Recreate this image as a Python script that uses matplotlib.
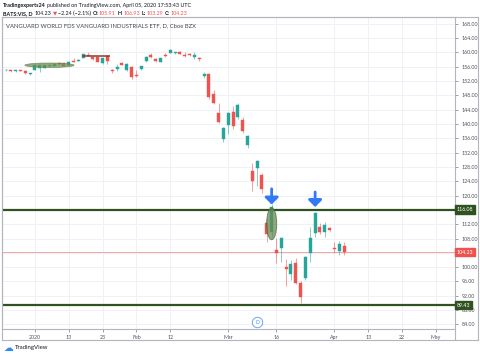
import matplotlib
matplotlib.use('Agg')
import matplotlib.pyplot as plt
from matplotlib.lines import Line2D
from matplotlib.patches import Ellipse
import matplotlib.transforms as mtrans

# ---------------- data (bar index 0 = 2019-12-23, daily bars) ----------------
opens = [154.95, 155.0, 154.7, 155.0, 154.8, 153.9, 155.1, 155.6, 155.7, 156.1,
         156.3, 157.1, 157.1, 156.4, 157.7, 157.7, 158.5, 159.3, 158.8, 158.6,
         157.0, 159.0, 155.2, 155.4, 157.1, 155.1, 156.0, 153.8, 155.3, 157.5,
         159.3, 158.2, 157.4, 159.3, 159.9, 159.8, 160.0, 159.3, 159.5, 158.8,
         158.5, 153.4, 153.9, 148.3, 143.0, 135.8, 139.7, 143.4, 141.9, 141.1,
         134.1, 126.9, 127.6, 125.7, 112.3, 109.8, 104.8, 105.4, 100.1, 98.1,
         101.3, 95.6, 96.9, 104.0, 109.5, 111.3, 109.9, 110.9, 105.4, 104.6,
         105.91]
highs = [155.25, 155.2, 155.0, 155.2, 155.0, 154.3, 156.5, 156.6, 156.6, 156.5,
         156.9, 157.4, 157.3, 157.5, 158.4, 158.0, 159.6, 160.2, 158.9, 158.8,
         158.5, 159.3, 155.4, 156.7, 157.4, 156.9, 156.2, 155.1, 156.2, 158.9,
         159.7, 158.3, 158.5, 159.9, 160.8, 160.2, 160.3, 160.1, 159.8, 160.1,
         158.7, 154.5, 154.1, 149.5, 145.9, 139.2, 143.3, 145.1, 145.9, 141.9,
         136.8, 129.1, 130.0, 126.4, 113.7, 117.6, 108.2, 108.4, 102.3, 102.0,
         102.6, 96.0, 103.2, 111.3, 115.5, 112.2, 112.7, 111.3, 107.1, 107.3,
         106.93]
lows = [154.75, 154.6, 154.5, 154.7, 154.0, 153.6, 155.0, 154.5, 155.5, 155.9,
        156.2, 156.6, 156.1, 156.2, 157.3, 157.5, 158.4, 158.9, 157.9, 157.3,
        156.8, 156.7, 154.2, 154.8, 156.4, 154.9, 152.6, 153.2, 155.1, 157.3,
        158.4, 157.4, 157.3, 158.6, 159.8, 159.6, 159.4, 158.8, 159.0, 158.1,
        157.5, 152.8, 146.9, 145.6, 140.3, 135.0, 137.2, 138.6, 141.5, 137.6,
        133.2, 121.4, 122.7, 120.6, 107.0, 108.5, 101.2, 101.4, 94.7, 96.4,
        95.3, 90.0, 96.5, 101.5, 108.5, 109.2, 108.5, 110.1, 103.9, 103.5,
        103.29]
closes = [155.1, 154.7, 154.9, 154.8, 154.2, 154.1, 156.4, 156.4, 156.4, 156.3,
          156.8, 156.8, 156.2, 157.3, 157.4, 157.9, 159.5, 159.0, 158.1, 157.4,
          158.3, 157.6, 154.9, 156.0, 156.5, 156.7, 153.0, 153.4, 156.2, 158.8,
          158.6, 157.6, 158.4, 159.1, 160.6, 160.1, 159.5, 159.0, 159.2, 159.2,
          158.2, 154.0, 147.4, 145.9, 140.6, 138.9, 143.0, 139.4, 145.3, 138.1,
          136.6, 124.1, 129.7, 121.8, 109.3, 116.8, 104.0, 108.2, 99.5, 100.9,
          95.7, 91.7, 102.9, 108.1, 115.0, 109.9, 111.8, 110.4, 105.1, 106.5,
          104.23]

tick_idx = [6, 13, 20, 27, 34, 46, 56, 68, 75, 82, 89]
tick_labels = ['2020', '13', '23', 'Feb', '12', 'Mar', '16', 'Apr', '13', '22', 'May']
price_ticks = list(range(84, 169, 4))
levels = [116.08, 89.43]
last_close = 104.23
dividend_bar = 52
arrow_bars = [55, 64]

# ---------------- style ----------------
UP = '#26a69a'
DN = '#ef5350'
GRID = '#eef1f6'
FRAME = '#b2b5be'
LVL = '#2f5220'
BLUE = '#3179f5'
W, H = 480, 356
FONT = ['Lato', 'DejaVu Sans']

fig = plt.figure(figsize=(W / 100, H / 100), dpi=100)
fig.patch.set_facecolor('white')

def fx(px):
    return px / W

def fy(py):
    return 1 - py / H

ax_l, ax_r, ax_t, ax_b = 2, 455, 17, 329
ax = fig.add_axes([fx(ax_l), fy(ax_b), fx(ax_r - ax_l), (ax_b - ax_t) / H])
ax.set_facecolor('white')

n = len(opens)
xs = list(range(n))

# grid
for p in price_ticks:
    ax.axhline(p, color=GRID, lw=0.7, zorder=0)
for t in tick_idx:
    ax.axvline(t, color=GRID, lw=0.7, zorder=0)

# candles
for i in xs:
    o, h, l, c = opens[i], highs[i], lows[i], closes[i]
    col = UP if c >= o else DN
    ax.vlines(i, l, h, color=col, lw=0.7, alpha=0.55, zorder=2)
    lo = min(o, c)
    hgt = max(abs(c - o), 0.25)
    ax.bar(i, hgt, bottom=lo, width=0.62, color=col, edgecolor=col, lw=0.3, zorder=3)

# price line of last close
ax.axhline(last_close, color='#f5a5a5', lw=0.7, zorder=1)

# support / resistance levels
for lv in levels:
    ax.axhline(lv, color=LVL, lw=1.6, zorder=4)

# drawings: ellipses
ax.add_patch(Ellipse((9.0, 156.4), 10.2, 1.25, facecolor='#6f8f55', edgecolor='#5b7a44',
                     alpha=0.75, lw=0.5, zorder=5))
ax.plot([15.7, 21.5], [158.85, 158.85], color='#8e3a2b', lw=1.1, zorder=5,
        solid_capstyle='butt')
ax.add_patch(Ellipse((55.0, 112.1), 2.1, 8.9, facecolor='#6b8a55', edgecolor='#48663a',
                     alpha=0.75, lw=0.6, zorder=5))

# arrows
for b, top, tip in zip(arrow_bars, [121.9, 121.0], [117.5, 116.8]):
    ax.annotate('', xy=(b, tip), xytext=(b, top),
                arrowprops=dict(arrowstyle='-|>,head_width=0.45,head_length=0.45',
                                color=BLUE, lw=2.0, mutation_scale=9, shrinkA=0, shrinkB=0),
                zorder=6)

# dividend marker
trans_xd = mtrans.blended_transform_factory(ax.transData, ax.transAxes)
ax.plot([dividend_bar], [0.022], transform=trans_xd, marker='o', ms=7.5, mfc='white',
        mec='#64a8f5', mew=0.7, zorder=7, clip_on=False)
ax.text(dividend_bar, 0.022, 'D', transform=trans_xd, ha='center', va='center',
        fontsize=3.6, color='#3f8ef0', family=FONT, zorder=8)

ax.set_xlim(-0.83, 92.96)
ax.set_ylim(82.73, 169.87)

# axes ticks (labels hidden behind the price-axis boxes are left blank)
hidden = {116, 104}
ax.yaxis.tick_right()
ax.set_yticks(price_ticks)
ax.set_yticklabels(['' if p in hidden else f'{p:.2f}' for p in price_ticks])
ax.set_xticks(tick_idx)
ax.set_xticklabels(tick_labels)
ax.tick_params(axis='y', length=2, width=0.5, color='#787b86', pad=2.5, labelsize=3.8,
               labelcolor='#50535e')
ax.tick_params(axis='x', length=2, width=0.5, color='#787b86', pad=2.5, labelsize=3.8,
               labelcolor='#50535e')
for lab in ax.get_xticklabels() + ax.get_yticklabels():
    lab.set_family(FONT)
for s in ax.spines.values():
    s.set_color(FRAME)
    s.set_linewidth(0.8)

# price-axis labels
trans_ad = mtrans.blended_transform_factory(ax.transAxes, ax.transData)
for val, bg in [(levels[0], LVL), (last_close, '#ef5350'), (levels[1], LVL)]:
    ax.text(1.004, val, f'{val:.2f}', transform=trans_ad, ha='left', va='center',
            fontsize=3.8, color='white', family=FONT, zorder=10, clip_on=False,
            bbox=dict(boxstyle='square,pad=0.35', facecolor=bg, edgecolor=bg))

# outer frame
fig.add_artist(Line2D([fx(2), fx(477.5)], [fy(17), fy(17)], color=FRAME, lw=0.8))
fig.add_artist(Line2D([fx(477.5), fx(477.5)], [fy(17), fy(340)], color=FRAME, lw=0.8))
fig.add_artist(Line2D([fx(2), fx(477.5)], [fy(340), fy(340)], color=FRAME, lw=0.8))
fig.add_artist(Line2D([fx(2), fx(2)], [fy(17), fy(340)], color=FRAME, lw=0.8))
fig.add_artist(Line2D([fx(455), fx(455)], [fy(329), fy(340)], color=FRAME, lw=0.8))

# ---------------- header texts ----------------
renderer = fig.canvas.get_renderer()

def seq_text(x0, y, pieces, size):
    x = x0
    for s, color, weight, gap in pieces:
        t = fig.text(fx(x), fy(y), s, color=color, fontsize=size, fontweight=weight,
                     ha='left', va='center', family=FONT)
        bb = t.get_window_extent(renderer)
        x += bb.width + gap

HS = 3.85
seq_text(3, 5.7, [('Tradingexperts24', '#131722', 'bold', 1.0),
                  ('published on TradingView.com, April 05, 2020 17:53:43 UTC', '#131722', 'normal', 0)],
         HS)
seq_text(3, 13.3, [('BATS:VIS, D', '#131722', 'bold', 2.0),
                   ('104.23', '#131722', 'normal', 1.3),
                   ('\u25bc', '#ef5350', 'normal', 1.1),
                   ('\u22122.24 (\u22122.1%)', '#131722', 'normal', 1.6),
                   ('O:', '#131722', 'bold', 0.7),
                   ('105.91', '#ef5350', 'normal', 1.6),
                   ('H:', '#131722', 'bold', 0.7),
                   ('106.93', '#ef5350', 'normal', 1.6),
                   ('L:', '#131722', 'bold', 0.7),
                   ('103.29', '#ef5350', 'normal', 1.6),
                   ('C:', '#131722', 'bold', 0.7),
                   ('104.23', '#ef5350', 'normal', 0)],
         HS)

fig.text(fx(6), fy(25.5), 'VANGUARD WORLD FDS VANGUARD INDUSTRIALS ETF, D, Cboe BZX',
         fontsize=4.2, color='#434651', ha='left', va='center', family=FONT)

# TradingView logo
fig.text(fx(3), fy(347.5), '\u2601', fontsize=7, color='#2a8af6', ha='left', va='center',
         family=['DejaVu Sans'])
fig.text(fx(14.5), fy(347.5), 'TradingView', fontsize=4.3, color='#131722', ha='left',
         va='center', family=FONT)

fig.savefig('out.png', dpi=100, facecolor='white')
